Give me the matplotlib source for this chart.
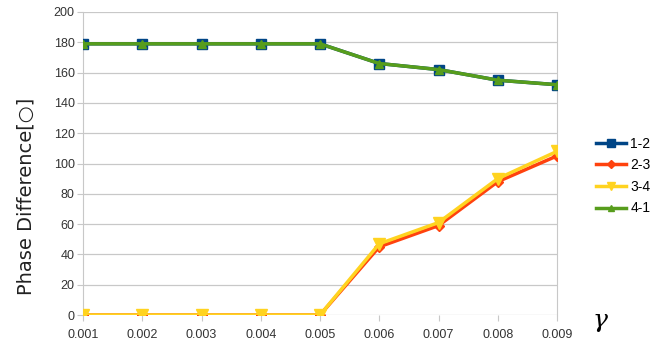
import matplotlib
matplotlib.use("Agg")
import matplotlib.pyplot as plt

gamma = [0.001, 0.002, 0.003, 0.004, 0.005, 0.006, 0.007, 0.008, 0.009]
x_labels = ["0.001", "0.002", "0.003", "0.004", "0.005", "0.006", "0.007", "0.008", "0.009"]

s12 = [179, 179, 179, 179, 179, 166, 162, 155, 152]
s23 = [0, 0, 0, 0, 0, 45, 59, 88, 105]
s34 = [0, 0, 0, 0, 0, 47, 61, 90, 108]
s41 = [179, 179, 179, 179, 179, 166, 162, 155, 152]

plt.rcParams['font.family'] = ['Liberation Sans', 'DejaVu Sans']

fig = plt.figure(figsize=(6.69, 3.45), dpi=100)
ax = fig.add_axes([83 / 669, 30 / 345, (557 - 83) / 669, (315 - 12) / 345])

ax.plot(gamma, s12, color="#004586", marker="s", markersize=7, linewidth=2.5, label="1-2", zorder=3)
ax.plot(gamma, s23, color="#ff420e", marker="D", markersize=5, linewidth=2.5, label="2-3", zorder=3)
ax.plot(gamma, s34, color="#ffd320", marker="v", markersize=8, linewidth=2.5, label="3-4", zorder=4)
ax.plot(gamma, s41, color="#579d1c", marker="^", markersize=6, linewidth=2.5, label="4-1", zorder=4)

ax.set_xlim(0.001, 0.009)
ax.set_ylim(0, 200)
ax.set_yticks(range(0, 201, 20))
ax.set_xticks(gamma)
ax.set_xticklabels(x_labels)
ax.grid(axis="y", color="#c8c8c8", linewidth=0.9)
ax.set_axisbelow(True)

for side in ["top", "bottom"]:
    ax.spines[side].set_visible(False)
for side in ["left", "right"]:
    ax.spines[side].set_color("#c8c8c8")
ax.tick_params(axis="both", colors="#c8c8c8", labelcolor="#333333", labelsize=9, length=4)
ax.tick_params(axis="x", pad=6)
ax.tick_params(axis="y", pad=2)

# label sits lower than the axes centre in the original
ax.set_ylabel("Phase Difference[○]", fontsize=14, color="#222222",
              family=["DejaVu Sans"])
ax.yaxis.set_label_coords(-0.1, 0.39)
fig.text(600 / 669, 1 - 320 / 345, "γ", fontsize=18, style="italic",
         ha="center", va="center", family=["DejaVu Serif"])

fig.legend(loc="center left", bbox_to_anchor=(583 / 669, 1 - 176 / 345),
           frameon=False, fontsize=10, handlelength=2.2, labelspacing=0.55,
           handletextpad=0.3, markerscale=0.8)

fig.savefig("out.png", dpi=100)
